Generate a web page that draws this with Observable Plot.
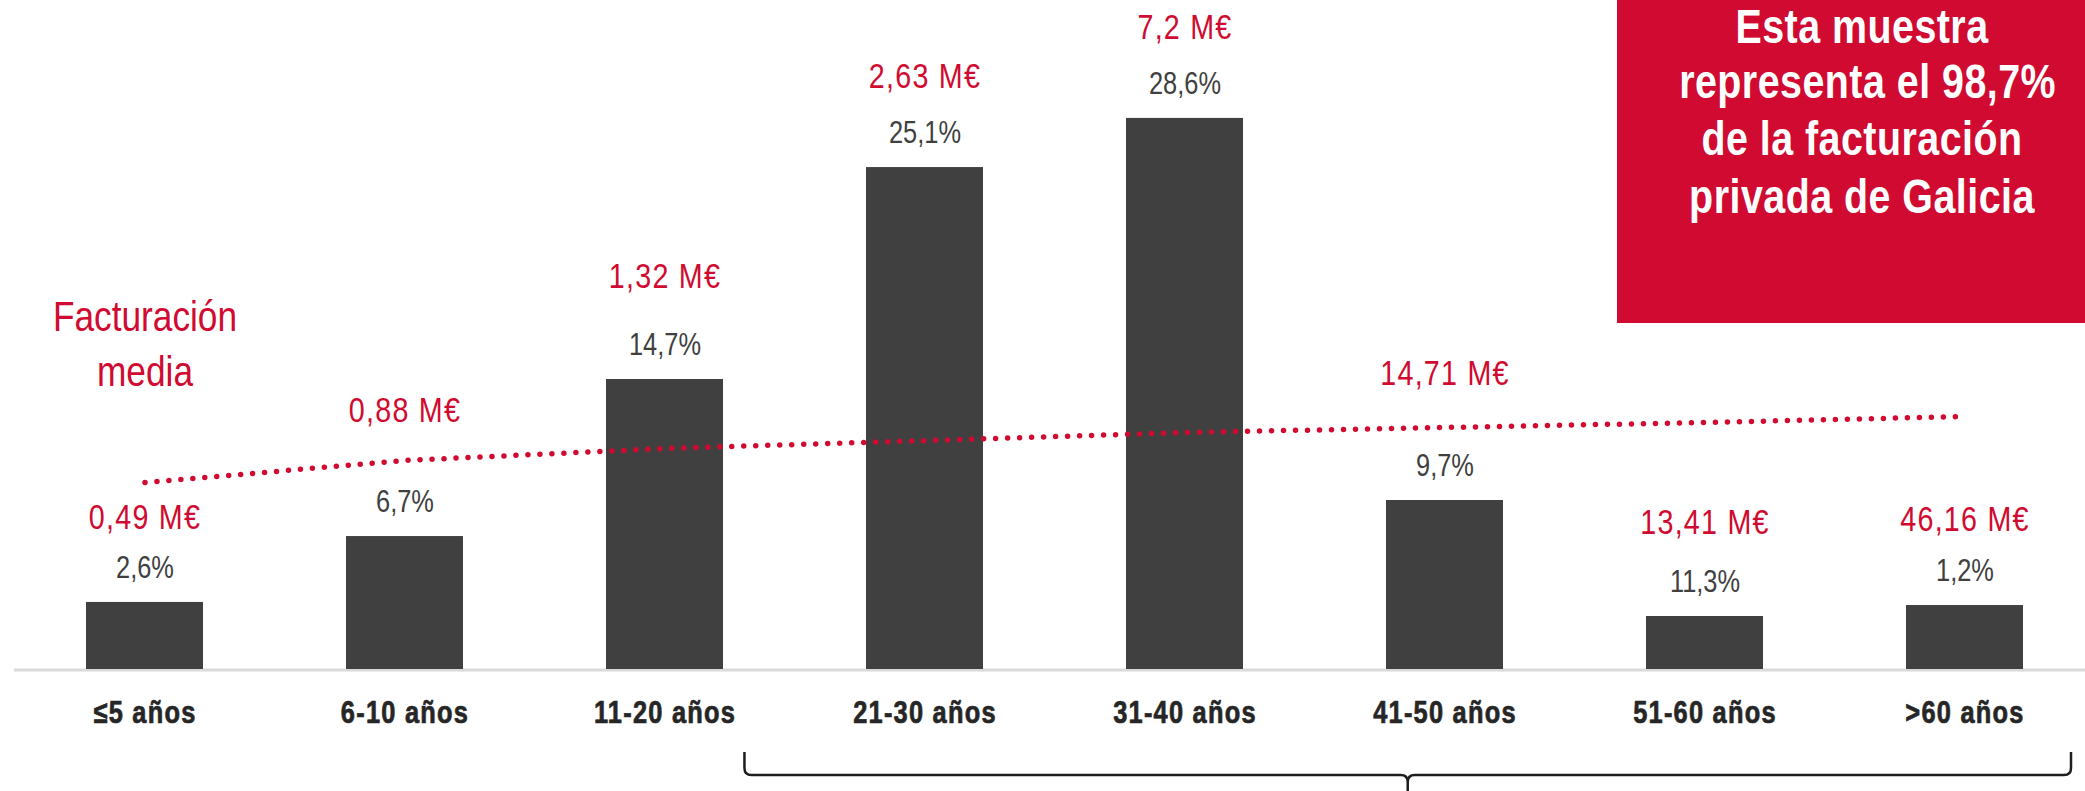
<!DOCTYPE html>
<html>
<head>
<meta charset="utf-8">
<script src="https://cdn.jsdelivr.net/npm/d3@7"></script>
<script src="https://cdn.jsdelivr.net/npm/@observablehq/plot@0.6"></script>
<style>
  html, body { margin: 0; padding: 0; background: #fff; }
  #wrap { position: relative; width: 2085px; height: 791px; overflow: hidden; }
  #box { position: absolute; left: 1617px; top: 0; width: 468px; height: 323px; background: #d00a30; }
  #box .l { position: absolute; left: 22px; right: 0; height: 48px; color: #fff;
    font-family: "Liberation Sans", Arial, sans-serif; font-weight: bold; white-space: nowrap;
    font-size: 48px; line-height: 48px; letter-spacing: 0.6px; text-align: center;
    transform: scaleX(0.82); transform-origin: 50% 0; }
</style>
</head>
<body>
<div id="wrap">
  <div id="chart"></div>
  <div id="box">
    <div class="l" style="top:3px">Esta muestra</div>
    <div class="l" style="top:58px">representa el 98,7%</div>
    <div class="l" style="top:115px">de la facturación</div>
    <div class="l" style="top:173px">privada de Galicia</div>
  </div>
</div>
<script>
// ---- data ----
const categories = ["≤5 años", "6-10 años", "11-20 años", "21-30 años", "31-40 años", "41-50 años", "51-60 años", ">60 años"];
// bar heights as drawn in the picture (in % units)
const barHeights = [3.48, 6.90, 15.05, 26.05, 28.6, 8.77, 2.75, 3.32];
const shareLabels = ["2,6%", "6,7%", "14,7%", "25,1%", "28,6%", "9,7%", "11,3%", "1,2%"];
const revenueLabels = ["0,49 M€", "0,88 M€", "1,32 M€", "2,63 M€", "7,2 M€", "14,71 M€", "13,41 M€", "46,16 M€"];
// dotted "Facturación media" trend line, read at each category (same units as bars)
const trendValues = [9.70, 10.85, 11.47, 11.88, 12.30, 12.56, 12.82, 13.13];

// ---- layout (pixels) ----
const W = 2085, H = 791, marginBottom = 122;
const yMax = 34.72;
const plotBottom = H - marginBottom;
const pxPerUnit = plotBottom / yMax;
const revenueGap = [51, 92, 69, 57, 57, 93, 60, 52]; // extra gap between % label and M€ label
const shareGap = 34;
const NARROW = 0.82; // horizontal squeeze to emulate a condensed face

const RED = "#d00a30";

const rows = categories.map((c, i) => ({
  cat: c, bar: barHeights[i], share: shareLabels[i], rev: revenueLabels[i],
  trend: trendValues[i], gap: revenueGap[i]
}));

function brace(index, scales, values, dims) {
  const x = scales.x;
  let left = 744, right = W - 14;
  if (x && x.bandwidth) {
    const gapW = x.step() - x.bandwidth();
    left = x(categories[3]) - 0.85 * gapW;
  }
  const mid = (left + right) / 2;
  const top = 752, hl = 775, bot = 791, r = 7;
  const d = `M${left},${top} L${left},${hl - r} Q${left},${hl} ${left + r},${hl} L${mid - r},${hl} Q${mid},${hl} ${mid},${hl + r} L${mid},${bot}` +
            ` M${mid},${hl + r} Q${mid},${hl} ${mid + r},${hl} L${right - r},${hl} Q${right},${hl} ${right},${hl - r} L${right},${top}`;
  const p = d3.create("svg:path")
    .attr("d", d).attr("fill", "none").attr("stroke", "#1e1e1e")
    .attr("stroke-width", 2.5).attr("stroke-linejoin", "round");
  return p.node();
}

const chart = Plot.plot({
  width: W,
  height: H,
  marginTop: 0,
  marginBottom: marginBottom,
  marginLeft: 14,
  marginRight: 0,
  style: { fontFamily: "'Liberation Sans', Arial, sans-serif", background: "transparent", overflow: "visible" },
  x: { type: "band", domain: categories, range: [85.5, 2022.5], paddingInner: 0.55, paddingOuter: 0, axis: null },
  y: { domain: [0, yMax], axis: null },
  marks: [
    Plot.ruleY([0], { stroke: "#d9d9d9", strokeWidth: 3, dy: 0.5 }),
    Plot.barY(rows, { x: "cat", y: "bar", fill: "#404040" }),
    Plot.line(rows, { x: "cat", y: "trend", stroke: RED, strokeWidth: 5.5, strokeDasharray: "0 12", strokeLinecap: "round" }),
    Plot.text(rows, { x: "cat", y: "bar", text: "share", dy: -shareGap, fontSize: 31, fill: "#404040" }),
    Plot.text(rows, { x: "cat", y: d => d.bar + (shareGap + d.gap) / pxPerUnit, text: "rev", fontSize: 35, fill: RED }),
    Plot.text(rows, { x: "cat", y: () => 0, text: "cat", dy: 44, fontSize: 31, fontWeight: "bold", fill: "#262626",
      stroke: "#262626", strokeWidth: 0.7 }),
    Plot.text([0], { x: () => categories[0], y: () => (plotBottom - 340.7) / pxPerUnit, text: () => "Facturación\nmedia",
      fontSize: 43, lineHeight: 55 / 43, fill: RED }),
    brace
  ]
});

// letter spacing per text mark (share, revenue, categories, annotation)
const spacing = [0, 1.5, 1.5, 0];
d3.select(chart).selectAll('g[aria-label="text"]').each(function (_, i) {
  if (spacing[i]) d3.select(this).attr("letter-spacing", spacing[i]);
});

// squeeze all texts horizontally around their anchor point
d3.select(chart).selectAll("text").each(function () {
  const t = this.getAttribute("transform");
  if (t) {
    this.setAttribute("transform", t + ` scale(${NARROW},1)`);
  } else {
    const x = +this.getAttribute("x") || 0, y = +this.getAttribute("y") || 0;
    this.removeAttribute("x"); this.removeAttribute("y");
    this.setAttribute("transform", `translate(${x},${y}) scale(${NARROW},1)`);
  }
});

document.getElementById("chart").appendChild(chart);
</script>
</body>
</html>
